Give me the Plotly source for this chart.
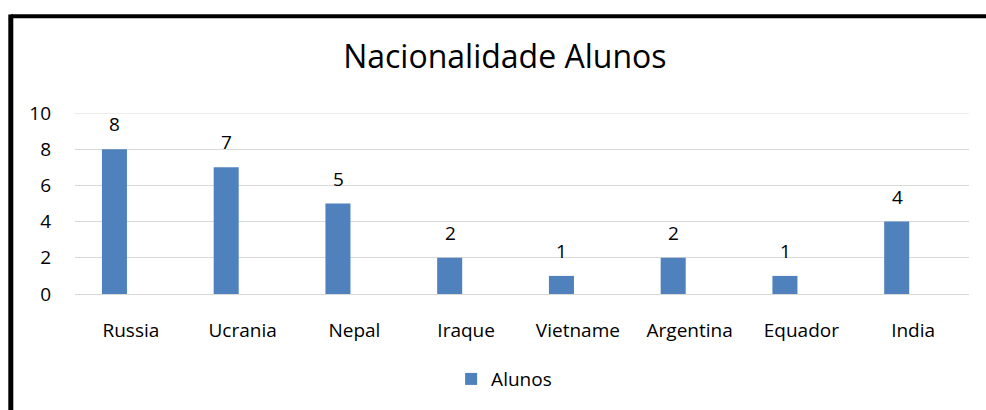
import plotly.graph_objects as go

paises = ["Russia", "Ucrania", "Nepal", "Iraque", "Vietname", "Argentina", "Equador", "India"]
alunos = [8, 7, 5, 2, 1, 2, 1, 4]
y_ticks = [0, 2, 4, 6, 8, 10]

fig = go.Figure()

# bars sit left of the category centre, as in the original Excel chart
fig.add_trace(go.Bar(
    x=paises,
    y=alunos,
    name="Alunos",
    marker=dict(color="#4F81BD", line=dict(width=0)),
    width=0.224,
    offset=-0.259,
))

# data labels, a bit higher above the bars than plotly's own outside text
for p, v in zip(paises, alunos):
    fig.add_annotation(x=p, y=v, text=str(v), showarrow=False,
                       xanchor="center", yanchor="bottom", xshift=-16, yshift=10,
                       font=dict(size=19, color="#000000"))

# top gridline at 10 (plotly drops gridlines at the edge)
fig.add_shape(type="line", xref="paper", yref="y", x0=0, x1=1, y0=y_ticks[-1], y1=y_ticks[-1],
              line=dict(color="#D9D9D9", width=1), layer="below")

# frame around chart (only left and top visible)
left_x = (10.8 - 75) / 894
top_y = (294 - 16.2) / 181
fig.add_shape(type="line", xref="paper", yref="paper",
              x0=left_x, x1=left_x, y0=-0.7, y1=top_y + 0.01,
              line=dict(color="#000000", width=5))
fig.add_shape(type="line", xref="paper", yref="paper",
              x0=left_x, x1=1.05, y0=top_y, y1=top_y,
              line=dict(color="#000000", width=4))

fig.update_layout(
    width=986,
    height=410,
    margin=dict(l=75, r=17, t=113, b=116, autoexpand=False),
    paper_bgcolor="white",
    plot_bgcolor="white",
    font=dict(family="Open Sans, Noto Sans, sans-serif", size=19, color="#000000"),
    title=dict(text="Nacionalidade Alunos", x=0.512, xanchor="center",
               y=1 - 57 / 410, yanchor="middle",
               font=dict(size=32, color="#000000")),
    showlegend=True,
    legend=dict(orientation="h", x=0.48, xanchor="center", y=-0.47, yanchor="middle",
                font=dict(size=19)),
    xaxis=dict(showline=False, ticks="", tickfont=dict(size=19), ticklabelstandoff=23),
    yaxis=dict(range=[0, 10], tickvals=y_ticks, showgrid=True, gridcolor="#D9D9D9",
               gridwidth=1, zeroline=True, zerolinecolor="#D9D9D9", zerolinewidth=1,
               showline=False, tickfont=dict(size=19), ticklabelstandoff=23),
)

fig.write_html("out.html", config={"displayModeBar": False},
               post_script="document.body.style.margin='0';")
